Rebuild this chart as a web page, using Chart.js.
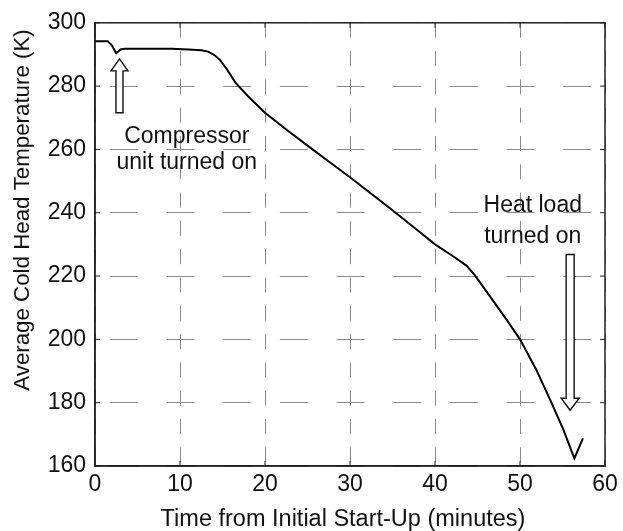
<!DOCTYPE html>
<html>
<head>
<meta charset="utf-8">
<script src="https://cdn.jsdelivr.net/npm/chart.js@4.4.0/dist/chart.umd.min.js"></script>
<style>
  html, body { margin: 0; padding: 0; background: #fff; }
  #wrap { width: 623px; height: 531px; }
</style>
</head>
<body>
<div id="wrap"><canvas id="chart" width="623" height="531"></canvas></div>
<script>
// cold head temperature vs time
const timeMin = [0, 1.5, 2.0, 2.5, 3.0, 3.5, 6, 9, 11, 12.5, 13.3, 14.0, 14.7, 15.5, 16.5, 18, 20,
  22.5, 25, 27.5, 30, 32.5, 35, 37.5, 40, 42, 43.7, 44.7, 46.8, 48.4, 50, 51.9, 53.7, 55.1, 56.4, 57.4];
const tempK = [294.2, 294.2, 292.8, 290.4, 291.6, 291.8, 291.8, 291.8, 291.6, 291.3, 290.9, 289.9, 288.3, 285.4, 281.2, 276.8, 271.6,
  266.3, 261.2, 256.2, 251.2, 246.0, 240.8, 235.4, 230.0, 226.5, 223.3, 220.2, 212.3, 206.3, 200.0, 190.5, 180.0, 171.5, 162.4, 168.7];

const xTicks = [0, 10, 20, 30, 40, 50, 60];
const yTicks = [160, 180, 200, 220, 240, 260, 280, 300];

const xTitle = 'Time from Initial Start-Up (minutes)';
const yTitle = 'Average Cold Head Temperature (K)';

// annotations, anchored in data units
const compressorText = ['Compressor', 'unit turned on'];
const compressorTextAt = { t: 10.8, T: [262.1, 253.9] };
const compressorArrow = { t: 2.88, tail: 271.6, tip: 288.6 };
const heatText = ['Heat load', 'turned on'];
const heatTextAt = { t: 51.5, T: [240.1, 230.6] };
const heatArrow = { t: 55.9, tail: 226.8, tip: 177.6 };

const FONT = "'Liberation Sans', Arial, Helvetica, sans-serif";

function hollowArrow(ctx, x, yTail, yTip, shaftW, headW, headLen) {
  const dir = yTip < yTail ? -1 : 1;
  const yBase = yTip - dir * headLen;
  ctx.beginPath();
  ctx.moveTo(x - shaftW / 2, yTail);
  ctx.lineTo(x - shaftW / 2, yBase);
  ctx.lineTo(x - headW / 2, yBase);
  ctx.lineTo(x, yTip);
  ctx.lineTo(x + headW / 2, yBase);
  ctx.lineTo(x + shaftW / 2, yBase);
  ctx.lineTo(x + shaftW / 2, yTail);
  ctx.closePath();
  ctx.fillStyle = '#fff';
  ctx.fill();
  ctx.lineWidth = 1.4;
  ctx.strokeStyle = '#111';
  ctx.stroke();
}

const framePlugin = {
  id: 'frame',
  afterDatasetsDraw(chart) {
    const { ctx, chartArea: a, scales: { x, y } } = chart;
    ctx.save();
    // box
    ctx.strokeStyle = '#222';
    ctx.lineWidth = 1.5;
    ctx.strokeRect(a.left, a.top, a.right - a.left, a.bottom - a.top);
    // inward ticks
    ctx.lineWidth = 1;
    ctx.beginPath();
    xTicks.forEach(v => {
      const px = x.getPixelForValue(v);
      ctx.moveTo(px, a.bottom); ctx.lineTo(px, a.bottom - 5);
      ctx.moveTo(px, a.top); ctx.lineTo(px, a.top + 5);
    });
    yTicks.forEach(v => {
      const py = y.getPixelForValue(v);
      ctx.moveTo(a.left, py); ctx.lineTo(a.left + 5, py);
      ctx.moveTo(a.right, py); ctx.lineTo(a.right - 5, py);
    });
    ctx.stroke();

    // arrows
    hollowArrow(ctx, x.getPixelForValue(compressorArrow.t), y.getPixelForValue(compressorArrow.tail),
      y.getPixelForValue(compressorArrow.tip), 7, 17, 12);
    hollowArrow(ctx, x.getPixelForValue(heatArrow.t), y.getPixelForValue(heatArrow.tail),
      y.getPixelForValue(heatArrow.tip), 8, 18, 12);

    // labels
    ctx.fillStyle = '#111';
    ctx.font = '23px ' + FONT;
    ctx.textAlign = 'center';
    ctx.textBaseline = 'alphabetic';
    compressorText.forEach((s, i) => {
      ctx.fillText(s, x.getPixelForValue(compressorTextAt.t), y.getPixelForValue(compressorTextAt.T[i]));
    });
    heatText.forEach((s, i) => {
      ctx.fillText(s, x.getPixelForValue(heatTextAt.t), y.getPixelForValue(heatTextAt.T[i]));
    });

    // axis titles
    ctx.textBaseline = 'middle';
    ctx.font = '23.5px ' + FONT;
    ctx.fillText(xTitle, 343, 520);
    ctx.font = '22.3px ' + FONT;
    ctx.translate(23, 210);
    ctx.rotate(-Math.PI / 2);
    ctx.fillText(yTitle, 0, 0);
    ctx.restore();
  }
};

const ctx = document.getElementById('chart').getContext('2d');
const chart = new Chart(ctx, {
  type: 'line',
  data: {
    datasets: [{
      data: timeMin.map((t, i) => ({ x: t, y: tempK[i] })),
      borderColor: '#000',
      borderWidth: 2,
      pointRadius: 0,
      tension: 0,
      fill: false
    }]
  },
  options: {
    responsive: false,
    animation: false,
    devicePixelRatio: 1,
    layout: { padding: { top: 22, right: 18, left: 0, bottom: 0 } },
    plugins: {
      legend: { display: false },
      tooltip: { enabled: false }
    },
    scales: {
      x: {
        type: 'linear',
        min: 0,
        max: 60,
        afterBuildTicks: s => { s.ticks = xTicks.map(v => ({ value: v })); },
        afterFit: s => { s.height = 65; },
        grid: { color: '#8a8a8a', lineWidth: 1, drawTicks: false },
        border: { display: true, color: '#222', width: 1.5, dash: [15, 13.3], dashOffset: 0 },
        ticks: { color: '#111', font: { family: FONT, size: 23 }, padding: 5, maxRotation: 0 }
      },
      y: {
        type: 'linear',
        min: 160,
        max: 300,
        afterBuildTicks: s => { s.ticks = yTicks.map(v => ({ value: v })); },
        afterFit: s => { s.width = 95; },
        grid: { color: '#8a8a8a', lineWidth: 1, drawTicks: false },
        border: { display: true, color: '#222', width: 1.5, dash: [28, 28.67], dashOffset: 42.3 },
        ticks: { color: '#111', font: { family: FONT, size: 23 }, padding: 9 }
      }
    }
  },
  plugins: [framePlugin]
});
</script>
</body>
</html>
